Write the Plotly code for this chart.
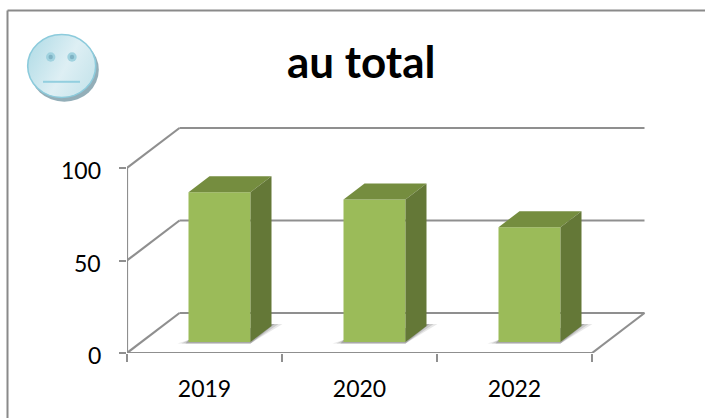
import plotly.graph_objects as go
from urllib.parse import quote

# --- data ---
years = ["2019", "2020", "2022"]
values = [81, 77, 62]
y_ticks = [0, 50, 100]
title_text = "au total"

# --- pixel geometry of the plot area ---
W, H = 705, 418
L, R_PX = 127, 662     # plot area left/right in px
T, B_PX = 118, 353     # plot area top/bottom in px
PX_PER_CAT = 155.0
PX_PER_UNIT = 1.85
xr = [-0.5, -0.5 + (R_PX - L) / PX_PER_CAT]
yr = [0, (B_PX - T) / PX_PER_UNIT]

def dx(px):
    return px / PX_PER_CAT

def dy(px):
    return px / PX_PER_UNIT

FLOOR_DX, FLOOR_DY = dx(52.5), dy(40)
BAR_SHIFT_X, BAR_SHIFT_Y = dx(15), dy(11)
DEPTH_X, DEPTH_Y = dx(21), dy(16)
BAR_W = 62 / PX_PER_CAT

GRID = "#8f8f8f"
FRONT = "#9bbb59"
TOP = "#758d3f"
SIDE = "#647837"

x_left, x_right = -0.5, len(years) - 0.5
shapes = []

def line(x0, y0, x1, y1):
    shapes.append(dict(type="line", xref="x", yref="y", x0=x0, y0=y0, x1=x1, y1=y1,
                       line=dict(color=GRID, width=2.2), layer="below"))

# walls and gridlines
for v in y_ticks:
    line(x_left, v, x_left + FLOOR_DX, v + FLOOR_DY)
    line(x_left + FLOOR_DX, v + FLOOR_DY, x_right + FLOOR_DX, v + FLOOR_DY)
# axes and floor edge
line(x_left, 0, x_left, max(y_ticks))
line(x_left, 0, x_right, 0)
line(x_right, 0, x_right + FLOOR_DX, FLOOR_DY)

fig = go.Figure()

# soft floor shadows (stacked translucent polygons, under the bars)
for i in range(len(years)):
    cx = i + BAR_SHIFT_X
    x0, x1 = cx - BAR_W / 2, cx + BAR_W / 2
    for grow, op in [(11, 0.14), (7, 0.2), (3, 0.3)]:
        g = dx(grow)
        pts = [(x0 - g, BAR_SHIFT_Y - dy(1.5)), (x1, BAR_SHIFT_Y - dy(1.5)),
               (x1 + DEPTH_X + g, BAR_SHIFT_Y + DEPTH_Y + dy(2)),
               (x1 + DEPTH_X, BAR_SHIFT_Y + DEPTH_Y + dy(2)), (x0, BAR_SHIFT_Y + dy(2))]
        path = "M " + " L ".join(f"{px:.4f},{py:.4f}" for px, py in pts) + " Z"
        shapes.append(dict(type="path", xref="x", yref="y", path=path, layer="below",
                           fillcolor=f"rgba(90,90,90,{op})", line=dict(width=0)))

fig.add_trace(go.Bar(x=[i + BAR_SHIFT_X for i in range(len(years))], y=values,
                     base=BAR_SHIFT_Y, width=BAR_W, marker=dict(color=FRONT, line=dict(width=0)),
                     showlegend=False))

for i, v in enumerate(values):
    cx = i + BAR_SHIFT_X
    x0, x1 = cx - BAR_W / 2, cx + BAR_W / 2
    yb, yt = BAR_SHIFT_Y, BAR_SHIFT_Y + v
    fig.add_trace(go.Scatter(x=[x0, x1, x1 + DEPTH_X, x0 + DEPTH_X, x0],
                             y=[yt, yt, yt + DEPTH_Y, yt + DEPTH_Y, yt],
                             mode="lines", fill="toself", fillcolor=TOP,
                             line=dict(width=0), showlegend=False, hoverinfo="skip"))
    fig.add_trace(go.Scatter(x=[x1, x1 + DEPTH_X, x1 + DEPTH_X, x1, x1],
                             y=[yt, yt + DEPTH_Y, yb + DEPTH_Y, yb, yt],
                             mode="lines", fill="toself", fillcolor=SIDE,
                             line=dict(width=0), showlegend=False, hoverinfo="skip"))

# frame (top and left edges only run inside the page)
for x0, y0, x1, y1 in [(7.5, 10.5, 705, 10.5), (7.5, 10.5, 7.5, 418)]:
    shapes.append(dict(type="line", xref="paper", yref="paper",
                       x0=(x0 - L) / (R_PX - L), x1=(x1 - L) / (R_PX - L),
                       y0=(B_PX - y0) / (B_PX - T), y1=(B_PX - y1) / (B_PX - T),
                       line=dict(color="#8a8a8a", width=2), layer="below"))

face_svg = """<svg xmlns='http://www.w3.org/2000/svg' width='80' height='80' viewBox='0 0 80 80'>
<defs><linearGradient id='g' x1='0' y1='0.25' x2='1' y2='0.75'>
<stop offset='0' stop-color='#b4dde7'/><stop offset='0.55' stop-color='#deeff4'/><stop offset='1' stop-color='#c6e4eb'/></linearGradient></defs>
<ellipse cx='40.3' cy='38.8' rx='34.5' ry='32' fill='#93aeb8'/>
<ellipse cx='37.7' cy='35' rx='34' ry='31.5' fill='url(#g)' stroke='#8ccbdc' stroke-width='1.6'/>
<circle cx='26.7' cy='26' r='4.7' fill='#a0d2df'/><circle cx='26.7' cy='26' r='2.2' fill='#7fb3c4'/>
<circle cx='48' cy='26' r='4.7' fill='#a0d2df'/><circle cx='48' cy='26' r='2.2' fill='#7fb3c4'/>
<rect x='19' y='49.8' width='37' height='2' fill='#93cfdf'/>
</svg>"""

# value-axis labels sit slightly below their ticks, as in the reference
y_label_annotations = [dict(text=str(v), xref="paper", yref="y", x=(103 - L) / (R_PX - L), y=v,
                            xanchor="right", yanchor="middle", yshift=-2, showarrow=False,
                            font=dict(size=23, family="Lato, Carlito, sans-serif", color="black"))
                       for v in y_ticks]

fig.update_layout(
    width=W, height=H, autosize=False,
    margin=dict(l=L, r=W - R_PX, t=T, b=H - B_PX, pad=0),
    paper_bgcolor="white", plot_bgcolor="rgba(0,0,0,0)",
    shapes=shapes,
    barmode="overlay",
    font=dict(family="Lato, Carlito, sans-serif", color="black"),
    xaxis=dict(range=xr, tickvals=list(range(len(years))), ticktext=years, ticks="",
               showgrid=False, zeroline=False, showline=False, fixedrange=True,
               tickfont=dict(size=23), ticklabelstandoff=20,
               minor=dict(tickmode="array",
                          tickvals=[i - 0.5 for i in range(len(years) + 1)],
                          ticks="outside", ticklen=8, tickwidth=2, tickcolor=GRID, showgrid=False)),
    yaxis=dict(range=yr, tickvals=y_ticks, ticks="outside", ticklen=7, tickwidth=2, tickcolor=GRID,
               showgrid=False, zeroline=False, showline=False, fixedrange=True,
               showticklabels=False),
    annotations=[dict(text=f"<b>{title_text}</b>", xref="paper", yref="paper",
                      x=(361 - L) / (R_PX - L), y=(B_PX - 61) / (B_PX - T),
                      xanchor="center", yanchor="middle", showarrow=False,
                      font=dict(size=44, family="Lato, Carlito, sans-serif", color="black"))]
                + y_label_annotations,
    images=[dict(source="data:image/svg+xml," + quote(face_svg), xref="paper", yref="paper",
                 x=(24 - L) / (R_PX - L), y=(B_PX - 31) / (B_PX - T),
                 sizex=80 / (R_PX - L), sizey=80 / (B_PX - T),
                 xanchor="left", yanchor="top", sizing="stretch", layer="above")],
)

fig.write_html("out.html", config=dict(displayModeBar=False),
               post_script="document.body.style.margin='0';document.documentElement.style.overflow='hidden';")
